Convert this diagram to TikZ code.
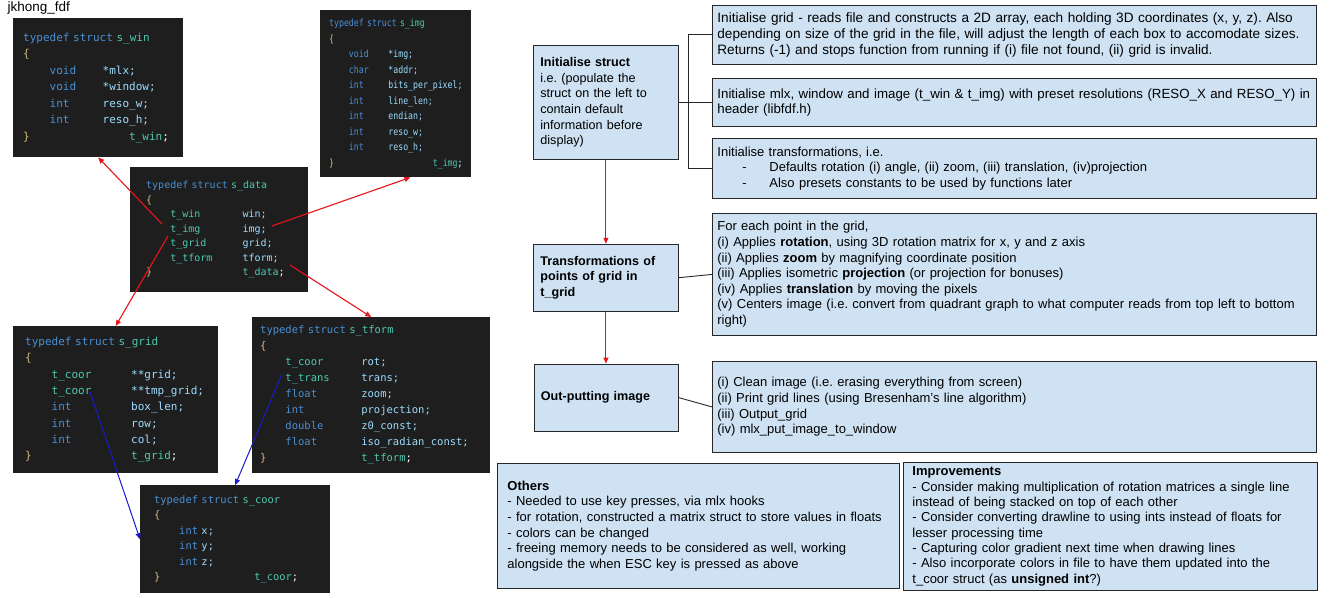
\documentclass[tikz,border=0pt]{standalone}
\usepackage{fontspec}
\setmainfont{Liberation Sans}
\setmonofont{DejaVu Sans Mono}
\newfontfamily\narrowmono[FakeStretch=0.82]{DejaVu Sans Mono}
\usetikzlibrary{arrows.meta, positioning}

\definecolor{flowfill}{HTML}{CFE2F3}
\definecolor{codebg}{HTML}{1E1E1E}
\definecolor{codekw}{HTML}{4A8FD4}
\definecolor{codety}{HTML}{4EC9B0}
\definecolor{codevar}{HTML}{9CDCFE}
\definecolor{codebr}{HTML}{D7BA7D}
\definecolor{linkred}{HTML}{E8141B}
\definecolor{linkblue}{HTML}{1A1ACC}

\newcommand{\kw}[1]{\textcolor{codekw}{#1}}
\newcommand{\ty}[1]{\textcolor{codety}{#1}}
\newcommand{\bc}[1]{\textcolor{codebr}{#1}}
\newcommand{\cgap}[1]{\hspace*{#1\fontcharwd\font`0}}
\newcommand{\fld}[3]{\cgap{4}\makebox[#1\fontcharwd\font`0][l]{#2}#3}
\newcommand{\hdr}[1]{\kw{typedef struct} \ty{#1}}
\newcommand{\codefont}[2]{\fontsize{#1}{#2}\selectfont\ttfamily}
\newcommand{\flowfont}[1]{\fontsize{#1}{15.6}\selectfont\frenchspacing}

\begin{document}
\begin{tikzpicture}[x=1pt, y=-1pt,
		code/.style={fill=codebg, anchor=north west, align=left, text=codevar, inner ysep=0pt},
		flow/.style={draw=black!85, fill=flowfill, anchor=north west, align=left, line width=0.8pt, inner xsep=6pt, inner ysep=0pt, font=\flowfont{13}},
		redarrow/.style={-{Triangle[length=6pt, width=5pt]}, linkred, line width=1.1pt},
		bluearrow/.style={-{Triangle[length=6pt, width=5pt]}, linkblue, line width=1pt},
		link/.style={black!85, line width=0.9pt}
		]
		\useasboundingbox (0,0) rectangle (1329,597);
		
		\node[anchor=west, font=\fontsize{13.5}{15}\selectfont] (author) at (4,8) {jkhong\_fdf};
		
		% Structs
		\node[code, font=\codefont{11}{16.5}, inner xsep=10pt, text width=150pt, minimum height=139pt] (win) at (13,18) {\hdr{s\_win}\\ \bc{\{}\\
			\fld{8}{\kw{void}}{*mlx;}\\ \fld{8}{\kw{void}}{*window;}\\ \fld{8}{\kw{int}}{reso\_w;}\\ \fld{8}{\kw{int}}{reso\_h;}\\
			\bc{\}}\cgap{15}\ty{t\_win}\textcolor{white}{;}};
		\node[code, font=\fontsize{10}{15.5}\selectfont\narrowmono, inner xsep=9pt, text width=133pt, minimum height=167pt] (img) at (320,10) {\hdr{s\_img}\\ \bc{\{}\\
			\fld{8}{\kw{void}}{*img;}\\ \fld{8}{\kw{char}}{*addr;}\\ \fld{8}{\kw{int}}{bits\_per\_pixel;}\\ \fld{8}{\kw{int}}{line\_len;}\\
			\fld{8}{\kw{int}}{endian;}\\ \fld{8}{\kw{int}}{reso\_w;}\\ \fld{8}{\kw{int}}{reso\_h;}\\
			\bc{\}}\cgap{20}\ty{t\_img}\textcolor{white}{;}};
		\node[code, font=\codefont{10}{14.5}, inner xsep=16pt, text width=146pt, minimum height=125pt] (data) at (130,167) {\hdr{s\_data}\\ \bc{\{}\\
			\fld{12}{\ty{t\_win}}{win;}\\ \fld{12}{\ty{t\_img}}{img;}\\ \fld{12}{\ty{t\_grid}}{grid;}\\ \fld{12}{\ty{t\_tform}}{tform;}\\
			\bc{\}}\cgap{15}\ty{t\_data}\textcolor{white}{;}};
		\node[code, font=\codefont{11}{16.3}, inner xsep=12pt, text width=181pt, minimum height=147pt] (grid) at (13,326) {\hdr{s\_grid}\\ \bc{\{}\\
			\fld{12}{\ty{t\_coor}}{**grid;}\\ \fld{12}{\ty{t\_coor}}{**tmp\_grid;}\\ \fld{12}{\kw{int}}{box\_len;}\\ \fld{12}{\kw{int}}{row;}\\ \fld{12}{\kw{int}}{col;}\\
			\bc{\}}\cgap{15}\ty{t\_grid}\textcolor{white}{;}};
		\node[code, font=\codefont{10.5}{16}, inner xsep=8pt, text width=222pt, minimum height=156pt] (tform) at (252,317) {\hdr{s\_tform}\\ \bc{\{}\\
			\fld{12}{\ty{t\_coor}}{rot;}\\ \fld{12}{\ty{t\_trans}}{trans;}\\ \fld{12}{\kw{float}}{zoom;}\\ \fld{12}{\kw{int}}{projection;}\\
			\fld{12}{\kw{double}}{z0\_const;}\\ \fld{12}{\kw{float}}{iso\_radian\_const;}\\
			\bc{\}}\cgap{15}\ty{t\_tform}\textcolor{white}{;}};
		\node[code, font=\codefont{10.4}{15.5}, inner xsep=14pt, text width=162pt, minimum height=108pt] (coor) at (140,485) {\hdr{s\_coor}\\ \bc{\{}\\
			\cgap{4}\kw{int} x;\\ \cgap{4}\kw{int} y;\\ \cgap{4}\kw{int} z;\\
			\bc{\}}\cgap{15}\ty{t\_coor}\textcolor{white}{;}};
		
		% Field points
		\coordinate (fimg) at (162,224);
		\coordinate (fimgvar) at (272,226);
		\coordinate (fgrid) at (168,236);
		\coordinate (ftform) at (290,265);
		\coordinate (fcoor) at (90,392);
		\coordinate (ftrans) at (282,374);
		
		% Struct arrows
		\draw[redarrow] (fimg) -- (win.south);
		\draw[redarrow] (fimgvar) -- (img.-80);
		\draw[redarrow] (fgrid) -- (grid.north);
		\draw[redarrow] (ftform) -- (tform.north);
		\draw[bluearrow] (fcoor) -- (coor.west);
		\draw[bluearrow] (ftrans) -- (coor.north);
		
		% Flow chain
		\node[flow, text width=131pt, minimum height=114pt, inner xsep=7pt, font=\flowfont{12.6}] (initstruct) at (533,45) {\textbf{Initialise struct}\\ i.e. (populate the\\ struct on the left to\\ contain default\\ information before\\ display)};
		\node[flow, text width=131pt, minimum height=67pt, inner xsep=7pt, below=84pt of initstruct, font=\flowfont{12.6}\bfseries] (transf) {Transformations of\\ points of grid in\\ t\_grid};
		\node[flow, text width=130pt, minimum height=67pt, inner xsep=7pt, below=52pt of transf, font=\flowfont{12.6}\bfseries] (outimg) {Out-putting image};
		
		% Detail boxes
		\node[flow, text width=594pt, minimum height=59pt, inner xsep=5pt, font=\flowfont{13.6}] (gridbox) at (712,5) {Initialise grid - reads file and constructs a 2D array, each holding 3D coordinates (x, y, z). Also\\ depending on size of the grid in the file, will adjust the length of each box to accomodate sizes.\\ Returns (-1) and stops function from running if (i) file not found, (ii) grid is invalid.};
		\node[flow, text width=594pt, minimum height=48pt, inner xsep=5pt, font=\flowfont{13.3}] (mlxbox) at (712,78) {Initialise mlx, window and image (t\_win \& t\_img) with preset resolutions (RESO\_X and RESO\_Y) in\\ header (libfdf.h)};
		\node[flow, text width=594pt, minimum height=60pt, inner xsep=5pt] (tfbox) at (712,138) {Initialise transformations, i.e.\\ \hspace*{25pt}\makebox[27pt][l]{-}Defaults rotation (i) angle, (ii) zoom, (iii) translation, (iv)projection\\ \hspace*{25pt}\makebox[27pt][l]{-}Also presets constants to be used by functions later};
		\node[flow, text width=594pt, minimum height=122pt, inner xsep=5pt] (points) at (712,213) {For each point in the grid,\\ (i) Applies \textbf{rotation}, using 3D rotation matrix for x, y and z axis\\ (ii) Applies \textbf{zoom} by magnifying coordinate position\\ (iii) Applies isometric \textbf{projection} (or projection for bonuses)\\ (iv) Applies \textbf{translation} by moving the pixels\\ (v) Centers image (i.e. convert from quadrant graph to what computer reads from top left to bottom\\ right)};
		\node[flow, text width=594pt, minimum height=91pt, inner xsep=5pt] (clean) at (712,361) {(i) Clean image (i.e. erasing everything from screen)\\ (ii) Print grid lines (using Bresenham's line algorithm)\\ (iii) Output\_grid\\ (iv) mlx\_put\_image\_to\_window};
		
		% Notes
		\node[flow, text width=382pt, minimum height=125pt, inner xsep=10pt] (others) at (497,463) {\textbf{Others}\\ - Needed to use key presses, via mlx hooks\\ - for rotation, constructed a matrix struct to store values in floats\\ - colors can be changed\\ - freeing memory needs to be considered as well, working\\ alongside the when ESC key is pressed as above};
		\node[flow, text width=396pt, minimum height=128pt, inner xsep=9pt, font=\fontsize{13}{15.3}\selectfont\frenchspacing] (improve) at (903,462) {\textbf{Improvements}\\ - Consider making multiplication of rotation matrices a single line\\ instead of being stacked on top of each other\\ - Consider converting drawline to using ints instead of floats for\\ lesser processing time\\ - Capturing color gradient next time when drawing lines\\ - Also incorporate colors in file to have them updated into the\\ t\_coor struct (as \textbf{unsigned int}?)};
		
		% Flow arrows
		\draw[redarrow] (initstruct) -- (transf);
		\draw[redarrow] (transf) -- (outimg);
		
		% Links to details
		\coordinate[right=10pt of initstruct.east] (fork);
		\draw[link] (gridbox.west) -| (fork) |- (tfbox.west);
		\draw[link] (initstruct.east) -- (mlxbox.west);
		\draw[link] (transf.east) -- (points.west);
		\draw[link] (outimg.east) -- (clean.west);
		
	\end{tikzpicture}
\end{document}
